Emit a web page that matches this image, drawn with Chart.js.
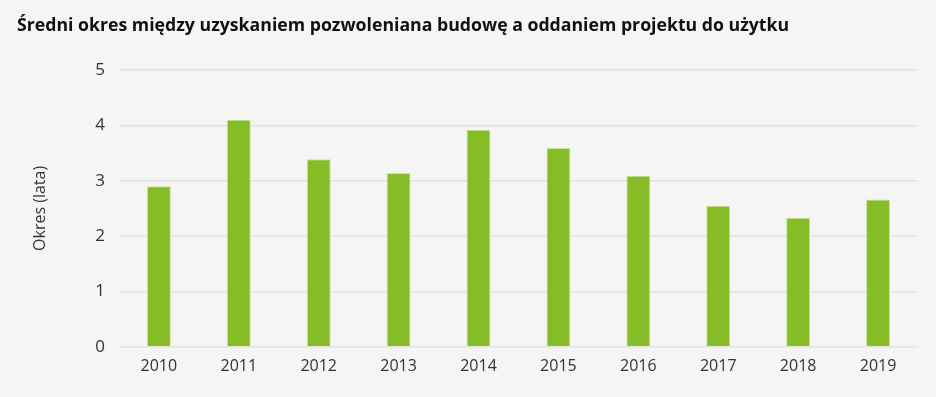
<!DOCTYPE html>
<html><head><meta charset="utf-8">
<script src="https://cdn.jsdelivr.net/npm/chart.js@4"></script>
<style>
html,body{margin:0;padding:0;background:#f5f5f3;}
#wrap{position:relative;width:936px;height:397px;}
#title{position:absolute;left:17px;top:12px;font:bold 17.7px "Open Sans",sans-serif;color:#111;white-space:nowrap;}
#c{position:absolute;left:0;top:0;}
</style></head><body>
<div id="wrap"><canvas id="c" width="936" height="397"></canvas>
<div id="title">Średni okres między uzyskaniem pozwoleniana budowę a oddaniem projektu do użytku</div></div>
<script>
const categories = ["2010","2011","2012","2013","2014","2015","2016","2017","2018","2019"];
const values = [2.9, 4.1, 3.39, 3.14, 3.92, 3.59, 3.09, 2.55, 2.33, 2.66];
const yTicks = [0,1,2,3,4,5];
const yTitle = "Okres (lata)";

new Chart(document.getElementById('c'), {
  type: 'bar',
  data: { labels: categories, datasets: [{ data: values, backgroundColor: '#86bc25', borderColor: '#c9e3a0', borderWidth: {top:1,left:1,right:1,bottom:0}, categoryPercentage: 1, barPercentage: 0.3 }] },
  options: {
    responsive: false, animation: false,
    layout: { padding: { top: 70, right: 18, bottom: 19, left: 27 } },
    plugins: { legend: { display: false }, tooltip: { enabled: false } },
    scales: {
      x: { grid: { display: false }, border: { display: false },
           ticks: { color: '#333', font: { family: 'Open Sans', size: 16 }, padding: 2 } },
      y: { min: 0, max: 5, afterBuildTicks: s => { s.ticks = yTicks.map(v => ({ value: v })); },
           grid: { color: '#e3e3e3', lineWidth: 1.5, drawTicks: false }, border: { display: false },
           ticks: { color: '#333', font: { family: 'Open Sans', size: 17 }, padding: 14 },
           title: { display: true, text: yTitle, color: '#333', font: { family: 'Open Sans', size: 16 }, padding: { bottom: 31 } } }
    }
  }
});
</script></body></html>
